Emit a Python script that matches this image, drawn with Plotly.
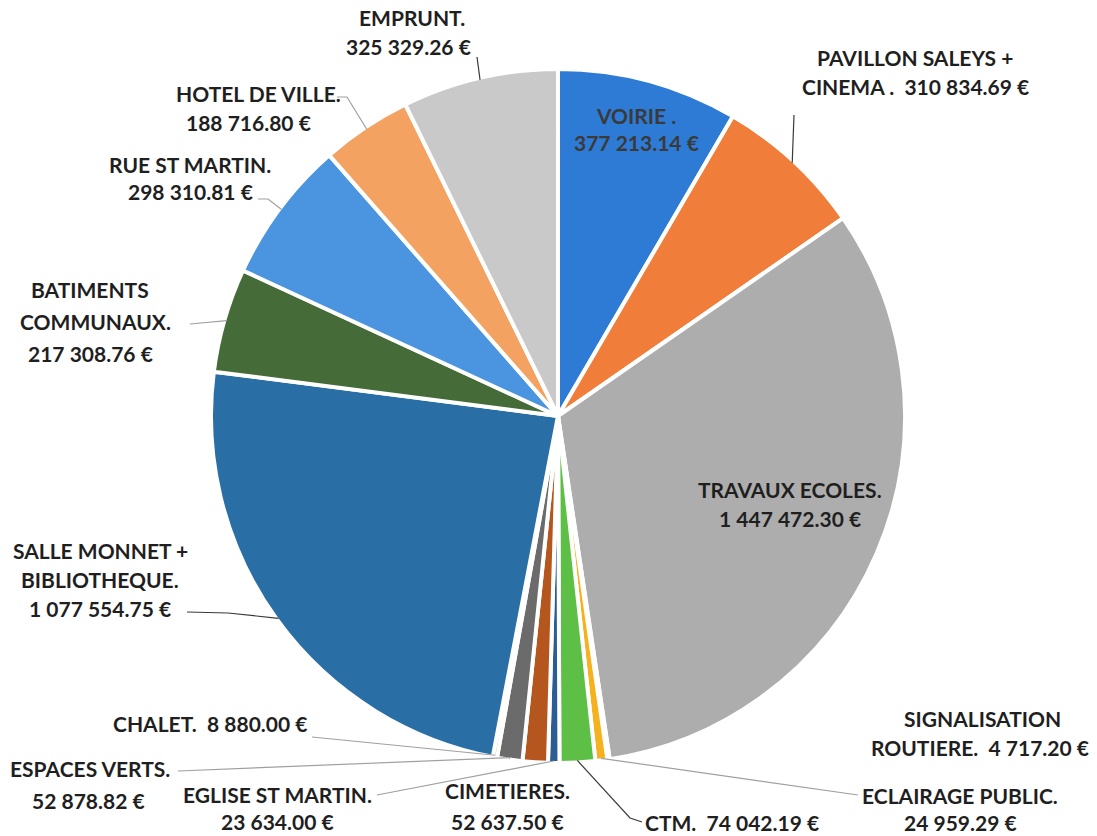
import math
import plotly.graph_objects as go

# ---- data (clockwise from 12 o'clock) ----
categories = ["VOIRIE", "PAVILLON SALEYS + CINEMA", "TRAVAUX ECOLES", "SIGNALISATION ROUTIERE",
              "ECLAIRAGE PUBLIC", "CTM", "EGLISE ST MARTIN", "CIMETIERES", "ESPACES VERTS",
              "CHALET", "SALLE MONNET + BIBLIOTHEQUE", "BATIMENTS COMMUNAUX", "RUE ST MARTIN",
              "HOTEL DE VILLE", "EMPRUNT"]
values = [377213.14, 310834.69, 1447472.30, 4717.20, 24959.29, 74042.19, 23634.00, 52637.50,
          52878.82, 8880.00, 1077554.75, 217308.76, 298310.81, 188716.80, 325329.26]
value_labels = ["377 213.14 €", "310 834.69 €", "1 447 472.30 €", "4 717.20 €", "24 959.29 €",
                "74 042.19 €", "23 634.00 €", "52 637.50 €", "52 878.82 €", "8 880.00 €",
                "1 077 554.75 €", "217 308.76 €", "298 310.81 €", "188 716.80 €", "325 329.26 €"]
colors = ["#2E7BD6", "#F07D3A", "#ADADAD", "#D9A21E", "#F5B21E", "#5DBF46", "#2B5C94", "#B5561F",
          "#6B6B6B", "#9C7A1C", "#2A6EA6", "#456B38", "#4B94E0", "#F4A262", "#C9C9C9"]

# ---- layout geometry (screen pixels) ----
W, H = 1097, 836
CX, CY, R = 558, 416, 347


def px(x):
    return x / W


def py(y):
    return 1 - y / H


fig = go.Figure(go.Pie(
    labels=categories, values=values, sort=False, direction="clockwise", rotation=0,
    marker=dict(colors=colors, line=dict(color="white", width=4)),
    textinfo="none", hoverinfo="label+value", showlegend=False,
    domain=dict(x=[px(CX - R), px(CX + R)], y=[py(CY + R), py(CY - R)]),
))

# slice mid-angles from the data
total = sum(values)
mids = {}
cum = 0.0
for c, v in zip(categories, values):
    mids[c] = (cum + v / 2) / total * 2 * math.pi
    cum += v


def edge(cat, rr=R - 2):
    a = mids[cat]
    return CX + rr * math.sin(a), CY - rr * math.cos(a)


ann = []
TXT = "#1F1F1F"


def text(t, x, y, color=TXT, size=21):
    ann.append(dict(text=t, x=px(x), y=py(y), xref="paper", yref="paper", showarrow=False,
                    xanchor="center", yanchor="middle",
                    font=dict(family="Lato, 'Open Sans', sans-serif", size=size, color=color)))


# label texts (line by line)
text("<b>EMPRUNT.</b>", 412, 18)
text("<b>" + value_labels[14] + "</b>", 408, 46)
text("<b>PAVILLON SALEYS +</b>", 915, 58)
text("<b>CINEMA .  " + value_labels[1] + "</b>", 915, 87)
text("<b>VOIRIE .</b>", 636, 115, color="#3A3A3A")
text("<b>" + value_labels[0] + "</b>", 636, 143, color="#3A3A3A")
text("<b>HOTEL DE VILLE.</b>", 258, 94)
text("<b>" + value_labels[13] + "</b>", 248, 122)
text("<b>RUE ST MARTIN.</b>", 190, 164)
text("<b>" + value_labels[12] + "</b>", 190, 192)
text("<b>BATIMENTS</b>", 90, 289)
text("<b>COMMUNAUX.</b>", 95, 321)
text("<b>" + value_labels[11] + "</b>", 90, 353)
text("<b>SALLE MONNET +</b>", 100, 550)
text("<b>BIBLIOTHEQUE.</b>", 100, 579)
text("<b>" + value_labels[10] + "</b>", 100, 608)
text("<b>TRAVAUX ECOLES.</b>", 790, 489)
text("<b>" + value_labels[2] + "</b>", 790, 518)
text("<b>SIGNALISATION</b>", 982, 718)
text("<b>ROUTIERE.  " + value_labels[3] + "</b>", 980, 747)
text("<b>ECLAIRAGE PUBLIC.</b>", 960, 795)
text("<b>" + value_labels[4] + "</b>", 960, 822)
text("<b>CTM.  " + value_labels[5] + "</b>", 732, 822)
text("<b>CIMETIERES.</b>", 508, 790)
text("<b>" + value_labels[7] + "</b>", 508, 821)
text("<b>EGLISE ST MARTIN.</b>", 278, 794)
text("<b>" + value_labels[6] + "</b>", 278, 821)
text("<b>ESPACES VERTS.</b>", 90, 768)
text("<b>" + value_labels[8] + "</b>", 88, 800)
text("<b>CHALET.  " + value_labels[9] + "</b>", 210, 723)

# leader lines: label end (layout) -> slice edge (from data)
DARK, LIGHT = "#3A3A3A", "#A0A0A0"
leaders = [
    ("EMPRUNT", [(477, 57)], DARK),
    ("PAVILLON SALEYS + CINEMA", [(794, 115)], DARK),
    ("HOTEL DE VILLE", [(337, 97), (347, 97)], LIGHT),
    ("RUE ST MARTIN", [(258, 199), (268, 199)], LIGHT),
    ("BATIMENTS COMMUNAUX", [(190, 324)], LIGHT),
    ("SALLE MONNET + BIBLIOTHEQUE", [(187, 612), (228, 613)], DARK),
    ("CHALET", [(312, 737)], LIGHT),
    ("ESPACES VERTS", [(178, 771)], LIGHT),
    ("EGLISE ST MARTIN", [(377, 795)], LIGHT),
    ("CTM", [(642, 822), (630, 818)], DARK),
    ("ECLAIRAGE PUBLIC", [(858, 795)], LIGHT),
]
shapes = []
for cat, pts, col in leaders:
    ex, ey = edge(cat)
    allp = pts + [(ex, ey)]
    path = "M " + " L ".join(f"{px(x)},{py(y)}" for x, y in allp)
    shapes.append(dict(type="path", path=path, xref="paper", yref="paper",
                       line=dict(color=col, width=1.2)))

fig.update_layout(width=W, height=H, margin=dict(l=0, r=0, t=0, b=0),
                  paper_bgcolor="white", plot_bgcolor="white",
                  annotations=ann, shapes=shapes)
fig.write_html("out.html", config={"displayModeBar": False},
               post_script="document.body.style.margin='0';")
